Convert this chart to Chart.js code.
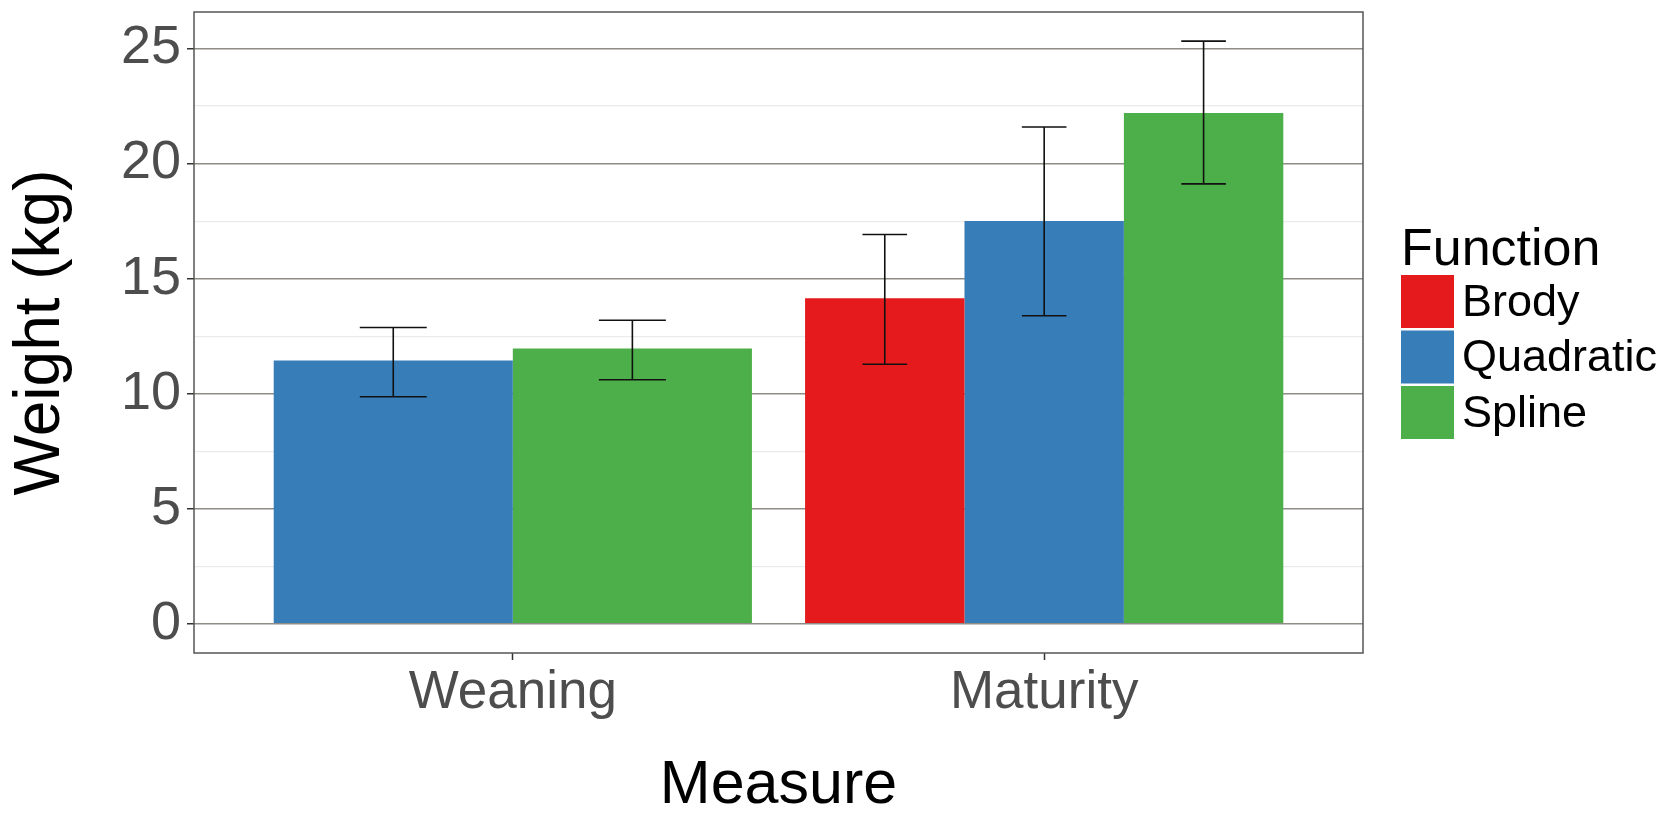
<!DOCTYPE html>
<html>
<head>
<meta charset="utf-8">
<script src="https://cdn.jsdelivr.net/npm/chart.js@4/dist/chart.umd.min.js"></script>
<style>
  html, body { margin: 0; padding: 0; background: #ffffff; }
  #wrap { width: 1668px; height: 814px; }
</style>
</head>
<body>
<div id="wrap"><canvas id="c" width="1668" height="814"></canvas></div>
<script>
// ---- Data ----
const categories = ['Weaning', 'Maturity'];
const seriesNames = ['Brody', 'Quadratic', 'Spline'];
const brodyMean = [null, 14.15];
const brodyLow = [null, 11.28];
const brodyHigh = [null, 16.92];
const quadraticMean = [11.44, 17.51];
const quadraticLow = [9.87, 13.39];
const quadraticHigh = [12.88, 21.59];
const splineMean = [11.96, 22.20];
const splineLow = [10.61, 19.12];
const splineHigh = [13.19, 25.32];
const yTickValues = [0, 2.5, 5, 7.5, 10, 12.5, 15, 17.5, 20, 22.5, 25];
const seriesColors = ['#E41A1C', '#377EB8', '#4DAF4A'];

const FONT = "'Liberation Sans', Arial, sans-serif";

function toPoints(arr) { return arr.map((v, i) => ({ x: i + 1, y: v })); }

const means = [brodyMean, quadraticMean, splineMean];
const lows = [brodyLow, quadraticLow, splineLow];
const highs = [brodyHigh, quadraticHigh, splineHigh];

const datasets = seriesNames.map((name, k) => ({
  label: name,
  data: toPoints(means[k]),
  errLow: lows[k],
  errHigh: highs[k],
  backgroundColor: seriesColors[k],
  borderWidth: 0,
  skipNull: true,
  categoryPercentage: 0.9,
  barPercentage: 1.0
}));

// y range like ggplot: 5% expansion of data range (0 .. max error)
const dataMax = Math.max(...highs.flat().filter(v => v !== null));
const dataMin = 0;
const span = dataMax - dataMin;

const errorBarPlugin = {
  id: 'errorBars',
  afterDatasetsDraw(chart) {
    const ctx = chart.ctx;
    const y = chart.scales.y;
    ctx.save();
    ctx.strokeStyle = '#111111';
    ctx.lineWidth = 1.6;
    chart.data.datasets.forEach((ds, di) => {
      const meta = chart.getDatasetMeta(di);
      meta.data.forEach((el, i) => {
        const lo = ds.errLow[i], hi = ds.errHigh[i];
        if (lo === null || hi === null || ds.data[i].y === null) return;
        const cx = el.x;
        const half = el.width * 0.14;
        const yl = y.getPixelForValue(lo), yh = y.getPixelForValue(hi);
        ctx.beginPath();
        ctx.moveTo(cx, yl); ctx.lineTo(cx, yh);
        ctx.moveTo(cx - half, yl); ctx.lineTo(cx + half, yl);
        ctx.moveTo(cx - half, yh); ctx.lineTo(cx + half, yh);
        ctx.stroke();
      });
    });
    ctx.restore();
  }
};

const panelPlugin = {
  id: 'panelBorder',
  afterDraw(chart) {
    const ctx = chart.ctx;
    const a = chart.chartArea;
    ctx.save();
    ctx.strokeStyle = '#555555';
    ctx.lineWidth = 1.5;
    ctx.strokeRect(a.left, a.top, a.right - a.left, a.bottom - a.top);
    ctx.restore();
  }
};

const legendPlugin = {
  id: 'customLegend',
  afterDraw(chart) {
    const ctx = chart.ctx;
    const a = chart.chartArea;
    const x0 = a.right + 38;
    ctx.save();
    ctx.fillStyle = '#000000';
    ctx.textBaseline = 'alphabetic';
    ctx.textAlign = 'left';
    ctx.font = `52px ${FONT}`;
    ctx.fillText('Function', x0, 265);
    const boxTop = 275, boxSize = 53, pitch = 55.5;
    ctx.font = `45px ${FONT}`;
    chart.data.datasets.forEach((ds, i) => {
      const by = boxTop + i * pitch;
      ctx.fillStyle = ds.backgroundColor;
      ctx.fillRect(x0, by, boxSize, boxSize);
      ctx.fillStyle = '#000000';
      ctx.textBaseline = 'middle';
      ctx.fillText(ds.label, x0 + boxSize + 8, by + boxSize / 2 + 2);
    });
    ctx.restore();
  }
};

new Chart(document.getElementById('c'), {
  type: 'bar',
  data: { datasets },
  options: {
    responsive: false,
    animation: false,
    devicePixelRatio: 1,
    layout: { padding: { top: 12, right: 305, bottom: 0, left: 0 } },
    plugins: { legend: { display: false }, tooltip: { enabled: false } },
    scales: {
      x: {
        type: 'linear',
        min: 0.4,
        max: 2.6,
        offset: false,
        afterBuildTicks(scale) { scale.ticks = categories.map((c, i) => ({ value: i + 1 })); },
        afterFit(scale) { scale.height = 161; scale.paddingLeft = 0; scale.paddingRight = 0; },
        grid: { offset: false, drawOnChartArea: false, drawTicks: true, tickLength: 7, tickColor: '#333333', tickWidth: 1.5 },
        border: { display: false },
        ticks: {
          callback: (v) => categories[Math.round(v) - 1] || '',
          font: { size: 53, family: FONT },
          color: '#4D4D4D',
          padding: 2,
          maxRotation: 0,
          autoSkip: false
        },
        title: {
          display: true,
          text: 'Measure',
          font: { size: 61, family: FONT, lineHeight: 0.92 },
          color: '#000000',
          padding: { top: 0, bottom: 0 }
        }
      },
      y: {
        type: 'linear',
        min: dataMin - span * 0.05,
        max: dataMax + span * 0.05,
        afterBuildTicks(scale) { scale.ticks = yTickValues.map(v => ({ value: v })); },
        afterFit(scale) { scale.width = 194; scale.paddingTop = 0; scale.paddingBottom = 0; },
        grid: {
          color: (c) => (c.tick && c.tick.value % 5 === 0) ? '#8E8C84' : '#EBEBEB',
          lineWidth: (c) => (c.tick && c.tick.value % 5 === 0) ? 1.5 : 1.2,
          tickColor: (c) => (c.tick && c.tick.value % 5 === 0) ? '#333333' : 'rgba(0,0,0,0)',
          tickLength: 7,
          tickWidth: 1.5,
          drawTicks: true
        },
        border: { display: false },
        ticks: {
          callback: (v) => (v % 5 === 0 ? String(v) : ''),
          font: { size: 54, family: FONT },
          color: '#4D4D4D',
          padding: 6,
          autoSkip: false
        },
        title: {
          display: true,
          text: 'Weight (kg)',
          font: { size: 64, family: FONT, lineHeight: 1.1 },
          color: '#000000',
          padding: { top: 6, bottom: 0 }
        }
      }
    }
  },
  plugins: [errorBarPlugin, panelPlugin, legendPlugin]
});
</script>
</body>
</html>
